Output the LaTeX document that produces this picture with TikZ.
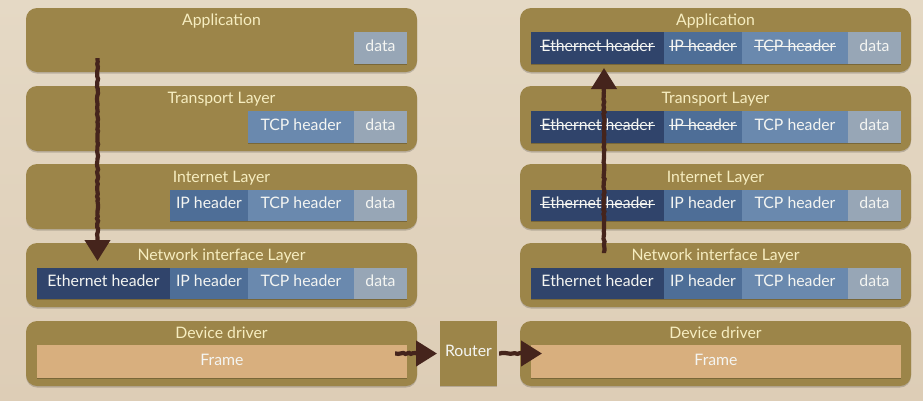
\documentclass[tikz,border=0pt]{standalone}
\usepackage{fontspec}
\setmainfont{Lato}
\usetikzlibrary{shadows,decorations.pathmorphing,arrows.meta}
\definecolor{bga}{HTML}{E5D9C5}
\definecolor{bgb}{HTML}{DDCDB6}
\definecolor{layerc}{HTML}{9C8549}
\definecolor{titlec}{HTML}{F6EDC0}
\definecolor{celltext}{HTML}{F4F5F2}
\definecolor{datac}{HTML}{97A6B6}
\definecolor{tcpc}{HTML}{6A89AE}
\definecolor{ipc}{HTML}{4E6E97}
\definecolor{ethc}{HTML}{30446B}
\definecolor{framec}{HTML}{D8AF7E}
\definecolor{arrowc}{HTML}{45241C}
\newcommand\boxat[7]{\node[#1,minimum width={(#3)-(#2)},minimum height={(#5)-(#4)}] (#6) at ({((#2)+(#3))/2},{((#4)+(#5))/2}) {#7};}
\newcommand\strk[1]{\leavevmode\setbox0\hbox{#1}\rlap{\copy0}\rlap{\kern-1pt\raisebox{.55ex}{\rule{\dimexpr\wd0+2pt\relax}{.8pt}}}\hphantom{\copy0}}
% one row of cells: name prefix, x offset, top, bottom, then the three header texts
\newcommand\rowcells[7]{%
  \boxat{ethcell}{37+#2}{170+#2}{#3}{#4}{#1eth}{#5}
  \boxat{ipcell}{170+#2}{248+#2}{#3}{#4}{#1ip}{#6}
  \boxat{tcpcell}{248+#2}{354+#2}{#3}{#4}{#1tcp}{#7}
  \boxat{datacell}{354+#2}{407+#2}{#3}{#4}{#1data}{data}}
\tikzset{
  base/.style={inner sep=0pt,outer sep=0pt,font=\fontsize{15.8}{17}\selectfont},
  layerbox/.style={base,fill=layerc,rounded corners=11pt,drop shadow={shadow xshift=0pt,shadow yshift=-1.5pt,opacity=.18,fill=black}},
  cellbox/.style={base,text=celltext,text height=8.6pt,text depth=2pt,drop shadow={shadow xshift=0pt,shadow yshift=-1.2pt,opacity=.22,fill=black}},
  datacell/.style={cellbox,fill=datac},
  tcpcell/.style={cellbox,fill=tcpc},
  ipcell/.style={cellbox,fill=ipc},
  ethcell/.style={cellbox,fill=ethc},
  framecell/.style={cellbox,fill=framec,text height=10.4pt},
  routerbox/.style={base,fill=layerc,text=celltext,text height=8.4pt,text depth=2pt,drop shadow={shadow xshift=0pt,shadow yshift=-1.2pt,opacity=.18,fill=black}},
  titletext/.style={base,text=titlec,anchor=base},
  pen/.style={draw=arrowc,line width=4.2pt,decorate,decoration={random steps,segment length=2.5pt,amplitude=.6pt,post length=6pt,pre length=1pt}},
  tipv/.style={-{Triangle[length=21pt,width=25pt,fill=arrowc,color=arrowc]}},
}
\begin{document}
\begin{tikzpicture}[x=1pt,y=-1pt]
\useasboundingbox (0,0) rectangle (923,400);
\shade[top color=bga,bottom color=bgb] (0,0) rectangle (923,400);
% layers
\boxat{layerbox}{26}{417}{8}{72}{lapp}{}
\boxat{layerbox}{26}{417}{86}{151}{ltra}{}
\boxat{layerbox}{26}{417}{164}{229}{lint}{}
\boxat{layerbox}{26}{417}{243}{307}{lnet}{}
\boxat{layerbox}{26}{417}{321}{386}{ldev}{}
\boxat{layerbox}{520}{911}{8}{72}{rapp}{}
\boxat{layerbox}{520}{911}{86}{151}{rtra}{}
\boxat{layerbox}{520}{911}{164}{229}{rint}{}
\boxat{layerbox}{520}{911}{243}{307}{rnet}{}
\boxat{layerbox}{520}{911}{321}{386}{rdev}{}
\boxat{routerbox}{440}{497}{321}{386}{router}{Router}
% titles
\node[titletext] (tl1) at (221.5,25) {Application};
\node[titletext] (tl2) at (221.5,103.3) {Transport Layer};
\node[titletext] (tl3) at (221.5,182) {Internet Layer};
\node[titletext] (tl4) at (221.5,260.7) {Network interface Layer};
\node[titletext] (tl5) at (221.5,338) {Device driver};
\node[titletext] (tr1) at (715.5,25) {Application};
\node[titletext] (tr2) at (715.5,103.3) {Transport Layer};
\node[titletext] (tr3) at (715.5,182) {Internet Layer};
\node[titletext] (tr4) at (715.5,260.7) {Network interface Layer};
\node[titletext] (tr5) at (715.5,338) {Device driver};
% left column cells
\boxat{datacell}{354}{407}{32}{64}{ladata}{data}
\boxat{tcpcell}{248}{354}{111}{143}{lttcp}{TCP header}
\boxat{datacell}{354}{407}{111}{143}{ltdata}{data}
\boxat{ipcell}{170}{248}{190}{221}{liip}{IP header}
\boxat{tcpcell}{248}{354}{190}{221}{litcp}{TCP header}
\boxat{datacell}{354}{407}{190}{221}{lidata}{data}
\rowcells{ln}{0}{268}{299}{Ethernet header}{IP header}{TCP header}
\boxat{framecell}{37}{407}{345}{378}{lframe}{Frame}
% right column cells
\rowcells{ra}{494}{32}{64}{\strk{Ethernet header}}{\strk{IP header}}{\strk{TCP header}}
\rowcells{rt}{494}{111}{143}{\strk{Ethernet header}}{\strk{IP header}}{TCP header}
\rowcells{ri}{494}{190}{221}{\strk{Ethernet header}}{IP header}{TCP header}
\rowcells{rn}{494}{268}{299}{Ethernet header}{IP header}{TCP header}
\boxat{framecell}{531}{901}{345}{378}{rframe}{Frame}
% connector ends
\coordinate (downstart) at (97.5,58);
\coordinate (downend) at (97.5,261);
\coordinate (upstart) at (604,253);
\coordinate (upend) at (604,68);
\coordinate (frstart) at (395,353.5);
\coordinate (frend) at (542,353.5);
% connectors
\draw[pen,tipv] (downstart) -- (downend);
\draw[pen,tipv] (upstart) -- (upend);
\draw[pen,tipv] (frstart) -- ([xshift=-3pt]router.west);
\draw[pen,tipv] ([xshift=2pt]router.east) -- (frend);
\end{tikzpicture}
\end{document}
